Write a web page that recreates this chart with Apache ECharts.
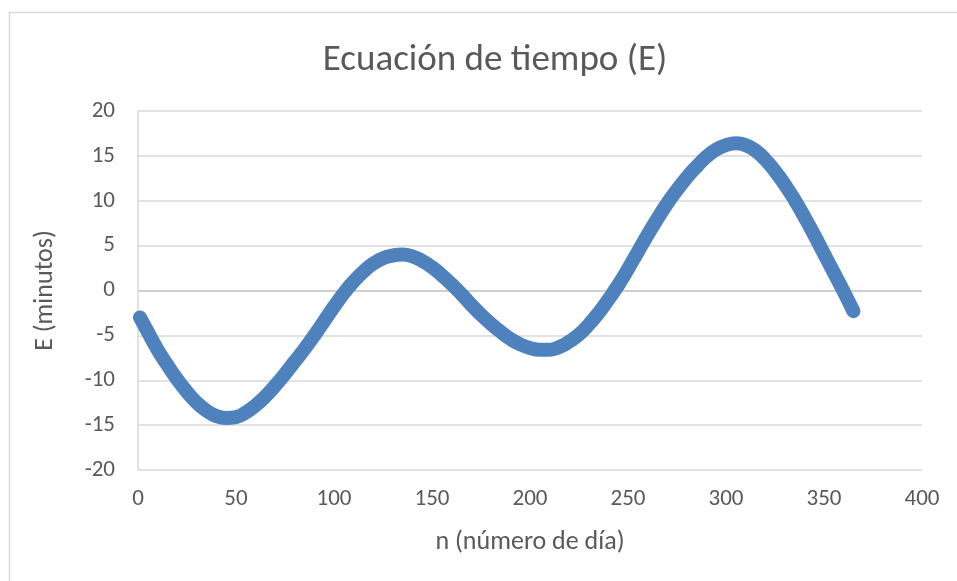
<!DOCTYPE html>
<html>
<head>
<meta charset="utf-8">
<style>
  html, body { margin: 0; padding: 0; background: #ffffff; }
  #chart { width: 957px; height: 581px; }
</style>
<script src="https://cdn.jsdelivr.net/npm/echarts@6/dist/echarts.min.js"></script>
</head>
<body>
<div id="chart"></div>
<script>
// Equation of time over the year: day number vs. correction in minutes
const days = [1, 5, 10, 15, 20, 25, 30, 35, 40, 45, 50, 55, 60, 65, 70, 75, 80, 85, 90, 95,
  100, 105, 110, 115, 120, 125, 130, 135, 140, 145, 150, 155, 160, 165, 170, 175, 180, 185, 190, 195,
  200, 205, 210, 215, 220, 225, 230, 235, 240, 245, 250, 255, 260, 265, 270, 275, 280, 285, 290, 295,
  300, 305, 310, 315, 320, 325, 330, 335, 340, 345, 350, 355, 360, 365];
const minutes = [-3.0, -4.6, -6.6, -8.3, -9.9, -11.3, -12.5, -13.4, -14.0, -14.2, -14.1, -13.6, -12.8, -11.8, -10.6, -9.3, -7.9, -6.5, -5.0, -3.4,
  -1.8, -0.3, 1.0, 2.1, 3.0, 3.6, 3.9, 4.0, 3.8, 3.3, 2.6, 1.7, 0.7, -0.4, -1.6, -2.7, -3.7, -4.6, -5.4, -6.0,
  -6.4, -6.6, -6.6, -6.3, -5.7, -4.9, -3.8, -2.5, -1.0, 0.6, 2.4, 4.3, 6.2, 8.0, 9.7, 11.2, 12.6, 13.8, 14.9, 15.7,
  16.2, 16.4, 16.2, 15.6, 14.6, 13.3, 11.8, 10.1, 8.2, 6.2, 4.1, 2.0, -0.1, -2.3];

const xTicks = { min: 0, max: 400, step: 50 };
const yTicks = { min: -20, max: 20, step: 5 };

const titleText = 'Ecuación de tiempo (E)';
const xName = 'n (número de día)';
const yName = 'E (minutos)';

const points = days.map((d, i) => [d, minutes[i]]);

const font = "Carlito, Calibri, 'Liberation Sans Narrow', 'Open Sans', sans-serif";
const textGrey = '#595959';
const gridGrey = '#d9d9d9';

// gridline colours cycle per line: the zero line is slightly darker
const nLines = (yTicks.max - yTicks.min) / yTicks.step + 1;
const lineColors = [];
for (let i = 0; i < nLines; i++) {
  lineColors.push(yTicks.min + i * yTicks.step === 0 ? '#bfbfbf' : gridGrey);
}

const chart = echarts.init(document.getElementById('chart'), null, { renderer: 'canvas' });
chart.setOption({
  backgroundColor: '#ffffff',
  animation: false,
  title: {
    text: titleText,
    left: 490,
    top: 37,
    textAlign: 'center',
    textStyle: { fontFamily: font, fontSize: 37, fontWeight: 'normal', color: textGrey }
  },
  graphic: [{
    type: 'rect',
    shape: { x: 9.5, y: 12.5, width: 1000, height: 600 },
    style: { fill: 'none', stroke: gridGrey, lineWidth: 1.5 },
    silent: true,
    z: -1
  }],
  grid: { left: 138, right: 35, top: 111, bottom: 111 },
  xAxis: {
    type: 'value',
    min: xTicks.min,
    max: xTicks.max,
    interval: xTicks.step,
    name: xName,
    nameLocation: 'middle',
    nameGap: 59,
    nameTextStyle: { fontFamily: font, fontSize: 26, color: textGrey },
    axisLine: { show: false },
    axisTick: { show: false },
    splitLine: { show: false },
    axisLabel: { margin: 18, fontFamily: font, fontSize: 23, color: textGrey }
  },
  yAxis: {
    type: 'value',
    min: yTicks.min,
    max: yTicks.max,
    interval: yTicks.step,
    name: yName,
    nameLocation: 'middle',
    nameGap: 80,
    nameTextStyle: { fontFamily: font, fontSize: 26, color: textGrey },
    axisLine: { show: true, onZero: false, lineStyle: { color: gridGrey, width: 1.5 } },
    axisTick: { show: false },
    splitLine: { show: true, lineStyle: { color: lineColors, width: 1.5 } },
    axisLabel: { margin: 23, fontFamily: font, fontSize: 23, color: textGrey }
  },
  series: [{
    type: 'line',
    data: points,
    smooth: true,
    showSymbol: false,
    lineStyle: { color: '#4f81bd', width: 14, cap: 'round', join: 'round' }
  }]
});
</script>
</body>
</html>
